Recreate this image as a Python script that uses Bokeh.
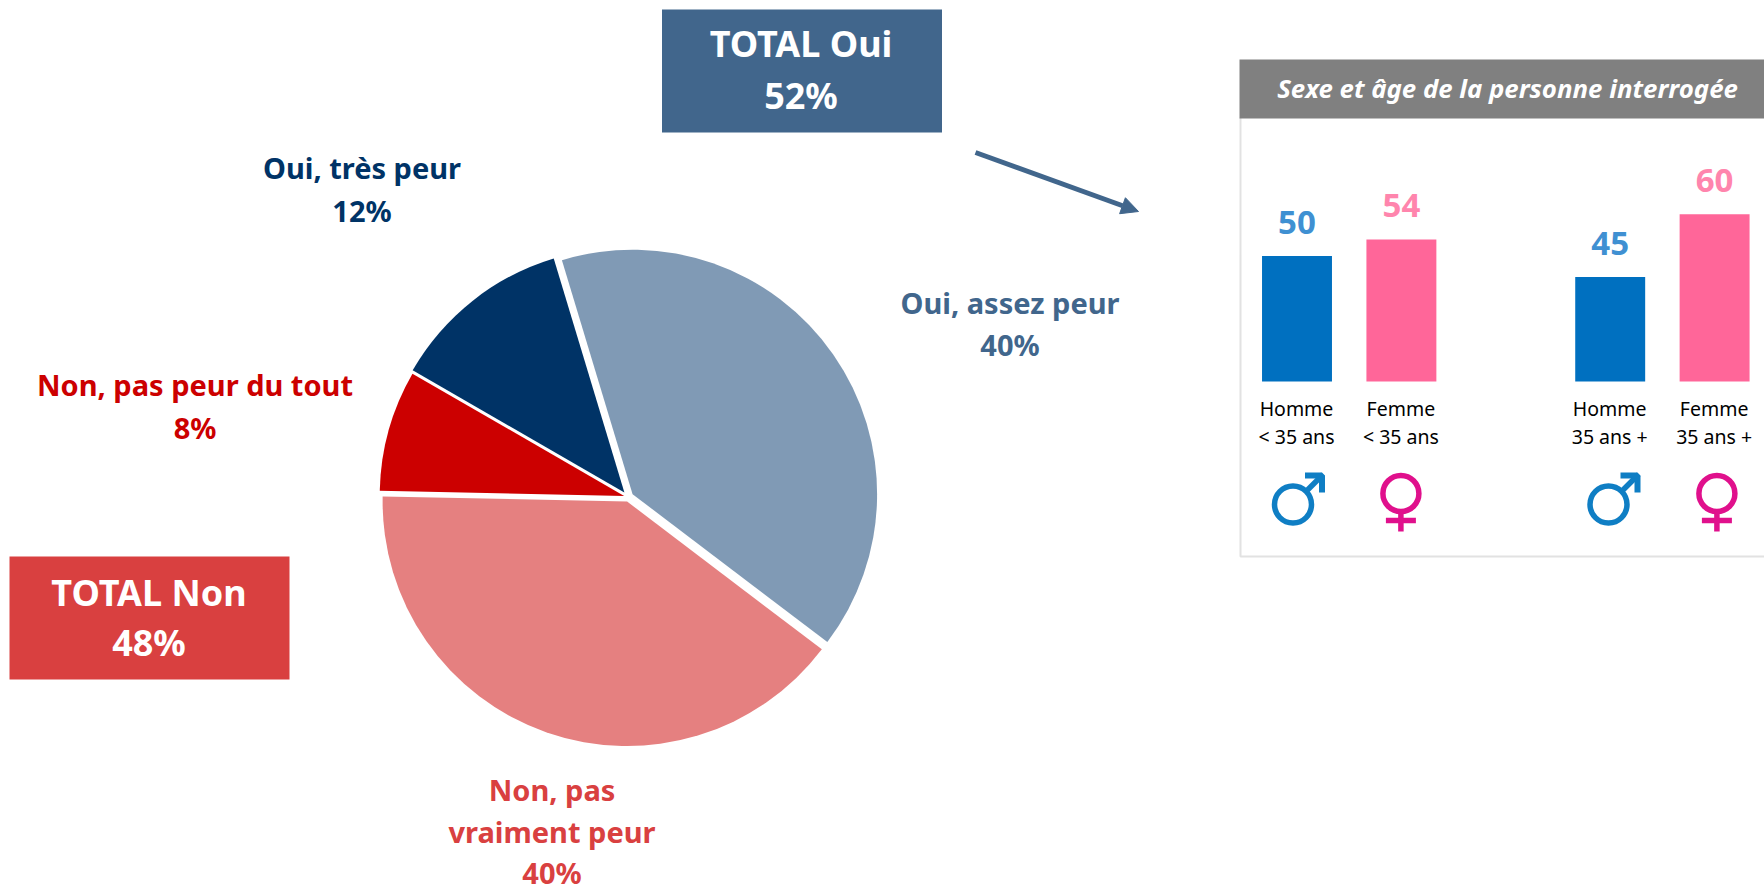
from math import pi, radians
from bokeh.plotting import figure
from bokeh.models import Range1d, Arrow, NormalHead
from bokeh.core.properties import value
from bokeh.embed import file_html
from bokeh.resources import INLINE

# ---- data ----
pie_names = ["Oui, assez peur", "Non, pas vraiment peur", "Non, pas peur du tout", "Oui, très peur"]
pie_values = [40, 40, 8, 12]
pie_colors = ["#809AB5", "#E58080", "#CC0000", "#003366"]
total_names = ["TOTAL Oui", "TOTAL Non"]
total_values = [52, 48]
bar_line1 = ["Homme", "Femme", "Homme", "Femme"]
bar_line2 = ["< 35 ans", "< 35 ans", "35 ans +", "35 ans +"]
bar_values = [50, 54, 45, 60]
bar_slots = [0, 1, 3, 4]
panel_title = "Sexe et âge de la personne interrogée"

BLUE = "#41668C"; RED = "#D94040"; FONT = "Noto Sans"
W, H = 1764, 886
def Y(py): return H - py

p = figure(width=W, height=H, output_backend="svg", toolbar_location=None,
           x_range=Range1d(0, W), y_range=Range1d(0, H),
           x_axis_type=None, y_axis_type=None, min_border=0,
           outline_line_color=None, background_fill_color="white")
p.grid.visible = False

# scales of the small bar chart: 20 at the baseline, about 4.18 px per point
base_py, ppu = 381.0, 4.18
p.extra_y_ranges["bars"] = Range1d(20 - (H - base_py) / ppu, 20 + base_py / ppu)
slot_px, slot0 = 104.4, 1296.5
p.extra_x_ranges["bars"] = Range1d(-slot0 / slot_px, (W - slot0) / slot_px)

def t(x, py, s, color, size, style="bold"):
    p.text([x - 0.5], [Y(py - 2)], text=[s], text_color=color, text_font=value(FONT),
           text_font_size=f"{size}px", text_font_style=style,
           text_align="center", text_baseline="middle")

# ---- pie ----
apexes = [(632.1, 493.7), (626.6, 501.0), (623.7, 495.4), (623.9, 492.0)]
radius = 244.5
ang = radians(90 + 16.8)
for v, c, (ax, ay) in zip(pie_values, pie_colors, apexes):
    a2 = ang - v / 100 * 2 * pi
    p.wedge([ax], [Y(ay)], radius=radius, start_angle=a2, end_angle=ang,
            fill_color=c, line_color=None)
    ang = a2

SZ = 29
t(1010, 304, pie_names[0], BLUE, SZ); t(1010, 346, f"{pie_values[0]}%", BLUE, SZ)
t(552, 791, "Non, pas", RED, SZ); t(552, 833, "vraiment peur", RED, SZ); t(552, 874, f"{pie_values[1]}%", RED, SZ)
t(195, 386, pie_names[2], "#CC0000", SZ); t(195, 429, f"{pie_values[2]}%", "#CC0000", SZ)
t(362, 169, pie_names[3], "#003366", SZ); t(362, 212, f"{pie_values[3]}%", "#003366", SZ)

# ---- total boxes ----
p.quad(left=[661.5], right=[941.5], top=[Y(9)], bottom=[Y(132)], fill_color=BLUE, line_color=None)
t(801, 45, total_names[0], "white", 36); t(801, 97, f"{total_values[0]}%", "white", 36)
p.quad(left=[9], right=[289], top=[Y(556)], bottom=[Y(679)], fill_color=RED, line_color=None)
t(149, 594, total_names[1], "white", 36); t(149, 644, f"{total_values[1]}%", "white", 36)

# ---- arrow ----
p.add_layout(Arrow(end=NormalHead(size=17, fill_color=BLUE, line_color=BLUE),
                   x_start=975, y_start=Y(152), x_end=1138, y_end=Y(211),
                   line_color=BLUE, line_width=5))

# ---- panel ----
p.line([1240, 1240, W], [Y(117), Y(556), Y(556)], line_color="#E2E2E2", line_width=2)
p.quad(left=[1239], right=[W], top=[Y(59)], bottom=[Y(118)], fill_color="#808080", line_color=None)
t(1507.5, 89, panel_title, "white", 25.8, "bold italic")

bar_fill = ["#0070C0", "#FF6699", "#0070C0", "#FF6699"]
lab_col = ["#3F90D2", "#FF85AD", "#3F90D2", "#FF85AD"]
p.vbar(x=bar_slots, top=bar_values, bottom=20, width=0.67, fill_color=bar_fill, line_color=None,
       x_range_name="bars", y_range_name="bars")
p.text(bar_slots, bar_values, text=[str(v) for v in bar_values], text_color=lab_col,
       text_font=value(FONT), text_font_size="33px", text_font_style="bold",
       text_align="center", text_baseline="middle", y_offset=-34,
       x_range_name="bars", y_range_name="bars")
for s, a, b in zip(bar_slots, bar_line1, bar_line2):
    cx = slot0 + s * slot_px
    t(cx, 410, a, "black", 19.5, "normal"); t(cx, 438, b, "black", 19.5, "normal")

# ---- gender symbols ----
MALE = "#0F7EC4"; FEMALE = "#E0108C"
def male(cx, cy):
    p.circle([cx], [Y(cy)], radius=18.5, fill_color=None, line_color=MALE, line_width=5.5)
    p.line([cx + 13, cx + 30], [Y(cy - 13), Y(cy - 30)], line_color=MALE, line_width=5.5)
    p.line([cx + 12, cx + 29, cx + 29], [Y(cy - 29), Y(cy - 29), Y(cy - 12)], line_color=MALE, line_width=6)
def female(cx, cy):
    p.circle([cx], [Y(cy)], radius=18, fill_color=None, line_color=FEMALE, line_width=5.5)
    p.line([cx, cx], [Y(cy + 18), Y(cy + 38)], line_color=FEMALE, line_width=5.5)
    p.line([cx - 15, cx + 15], [Y(cy + 27), Y(cy + 27)], line_color=FEMALE, line_width=5.5)
male(1292.5, 504); female(1400.4, 493); male(1608, 504); female(1716.4, 493)

open("out.html", "w").write(file_html(p, INLINE))
